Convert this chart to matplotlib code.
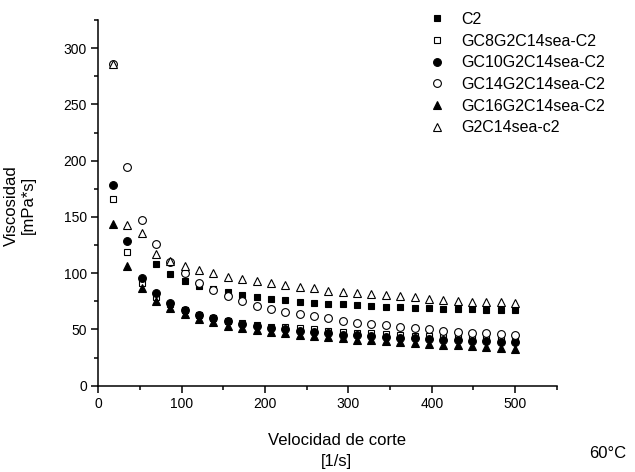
import numpy as np
import matplotlib
matplotlib.use("Agg")
import matplotlib.pyplot as plt
from matplotlib.ticker import MultipleLocator

plt.rcParams['font.family'] = ['Liberation Sans', 'DejaVu Sans']

# Shear rate [1/s]
shear_rate = [17.2, 34.5, 51.7, 69.0, 86.2, 103.4, 120.7, 137.9, 155.2, 172.4,
              189.7, 206.9, 224.1, 241.4, 258.6, 275.9, 293.1, 310.3, 327.6, 344.8,
              362.1, 379.3, 396.6, 413.8, 431.0, 448.3, 465.5, 482.8, 500.0]

# Viscosity [mPa*s] for each sample at 60 °C
c2 = [np.nan, np.nan, np.nan, 108, 99.5, 93.5, 89, 86, 83, 81,
      79, 77.5, 76, 74.5, 73.7, 72.8, 72.3, 71.5, 70.8, 70.2,
      69.7, 69.3, 68.8, 68.5, 68.2, 68, 67.7, 67.5, 67.3]
gc8 = [165.7, 118.4, 91.4, 79, 72.5, 67, 63, 60, 57.5, 55.5,
       54, 52.5, 51.8, 51, 50, 49, 48, 47.2, 46.5, 46,
       45.2, 44.5, 44, 43.5, 43, 42.5, 42, 41.5, 41]
gc10 = [178, 128.4, 96, 82, 73.5, 67.5, 63, 60, 57.5, 55,
        53, 51.5, 50, 48.5, 47.5, 46.5, 45.5, 44.7, 44, 43.3,
        42.7, 42, 41.5, 41, 40.5, 40, 39.5, 39, 38.5]
gc14 = [286, 194, 147, 125.5, 110, 100, 91.5, 85, 79.5, 75,
        70.7, 67.8, 65.7, 63.8, 62.1, 59.8, 57.7, 56, 54.8, 53.9,
        52.4, 50.9, 50, 48.5, 48, 47, 46.5, 45.9, 45]
gc16 = [144, 106.5, 86.4, 75.4, 69, 63.5, 59.5, 56.5, 53.5, 51.5,
        49.5, 48, 46.5, 45, 44, 43, 42, 41, 40.2, 39.5,
        38.8, 38, 37.3, 36.5, 35.8, 35, 34.3, 33.6, 33]
g2c14 = [286, 143, 136, 117, 111, 106.5, 102.7, 99.8, 96.8, 94.7,
         92.9, 90.9, 89.4, 87.7, 86.4, 84.3, 83.4, 82.5, 81.4, 80.5,
         79.6, 78.5, 76.7, 76, 75.5, 74.6, 74.4, 74, 73.7]

series = [
    ("C2", c2, 's', True, 5.0),
    ("GC8G2C14sea-C2", gc8, 's', False, 5.0),
    ("GC10G2C14sea-C2", gc10, 'o', True, 5.6),
    ("GC14G2C14sea-C2", gc14, 'o', False, 5.6),
    ("GC16G2C14sea-C2", gc16, '^', True, 6.2),
    ("G2C14sea-c2", g2c14, '^', False, 6.2),
]

fig = plt.figure(figsize=(6.35, 4.72), dpi=100)
ax = fig.add_axes([0.1551, 0.1828, 0.7218, 0.7748])

for label, vals, mk, filled, ms in series:
    ax.plot(shear_rate, vals, linestyle='none', marker=mk, markersize=ms,
            markerfacecolor='black' if filled else 'white',
            markeredgecolor='black', markeredgewidth=0.8, label=label)

ax.set_xlim(0, 550)
ax.set_ylim(0, 325)
ax.xaxis.set_major_locator(MultipleLocator(100))
ax.xaxis.set_minor_locator(MultipleLocator(50))
ax.yaxis.set_major_locator(MultipleLocator(50))
ax.yaxis.set_minor_locator(MultipleLocator(25))

for s in ('top', 'right'):
    ax.spines[s].set_visible(False)
for s in ('left', 'bottom'):
    ax.spines[s].set_linewidth(1.1)

ax.tick_params(which='major', direction='out', length=5.3, width=1.1,
               labelsize=10, pad=3)
ax.tick_params(which='minor', direction='out', length=2.7, width=1.1)

fig.text(0.032, 0.565, "Viscosidad\n[mPa*s]", rotation=90, ha='center',
         va='center', fontsize=12, linespacing=1.15)
fig.text(0.53, 0.044, "Velocidad de corte\n[1/s]", ha='center', va='center',
         fontsize=12, linespacing=1.5)
fig.text(0.957, 0.04, "60°C", ha='center', va='center', fontsize=12)

leg = ax.legend(loc='upper left', bbox_to_anchor=(0.676, 0.975),
                bbox_transform=fig.transFigure, frameon=False,
                fontsize=11.5, handlelength=1.0, handletextpad=1.0,
                labelspacing=0.42, borderaxespad=0, borderpad=0)

fig.savefig("out.png", dpi=100)
